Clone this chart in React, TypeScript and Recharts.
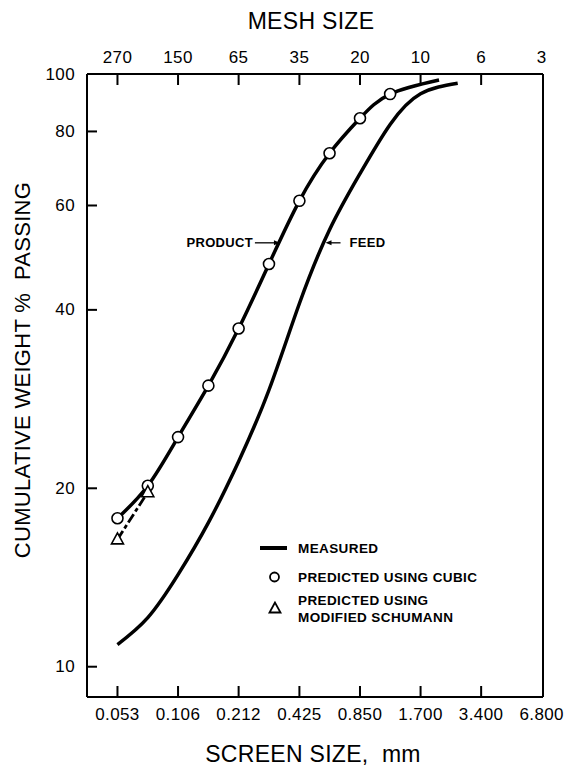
import { ComposedChart, Line, Scatter, XAxis, YAxis, ReferenceDot, Legend } from 'recharts'

// screen size ticks (mm) and matching mesh numbers
const xTicks = [0.053, 0.106, 0.212, 0.425, 0.85, 1.7, 3.4, 6.8]
const xTickLabels = ['0.053', '0.106', '0.212', '0.425', '0.850', '1.700', '3.400', '6.800']
const meshLabels = ['270', '150', '65', '35', '20', '10', '6', '3']
const yTicks = [10, 20, 40, 60, 80, 100]

// measured feed
const feedSize = [0.053, 0.075, 0.106, 0.15, 0.212, 0.3, 0.425, 0.6, 0.85, 1.2, 1.7, 2.6]
const feedPassing = [10.9, 12.1, 14.3, 17.5, 22.2, 29.3, 41.0, 54.6, 67.9, 82.2, 92.6, 96.5]

// measured product
const productSize = [0.053, 0.075, 0.106, 0.15, 0.212, 0.3, 0.425, 0.6, 0.85, 1.2, 2.1]
const productPassing = [17.8, 20.2, 24.4, 29.8, 37.2, 47.8, 61.1, 73.5, 84.2, 92.5, 97.7]

// predicted using cubic
const cubicSize = [0.053, 0.075, 0.106, 0.15, 0.212, 0.3, 0.425, 0.6, 0.85, 1.2]
const cubicPassing = [17.8, 20.2, 24.4, 29.8, 37.2, 47.8, 61.1, 73.5, 84.2, 92.5]

// predicted using modified Schumann
const schumannSize = [0.053, 0.075]
const schumannPassing = [16.4, 19.7]

const xDomain = [0.0374, 6.9]
const yDomain = [8.89, 100]

const FONT = '"Liberation Sans", Arial, sans-serif'
const TICK_LEN = 11

const pts = (xs: number[], ys: number[]) => xs.map((x, i) => ({ x, y: ys[i] }))

const feed = pts(feedSize, feedPassing)
const product = pts(productSize, productPassing)
const cubic = pts(cubicSize, cubicPassing)
const schumann = pts(schumannSize, schumannPassing)

// custom ticks: a short inward mark plus the label outside the frame
const BottomTick = (props: any) => {
  const { x, y, payload } = props
  const i = xTicks.indexOf(payload.value)
  return (
    <g>
      {i < xTicks.length - 1 && <rect x={x - 1} y={y - TICK_LEN} width={2} height={TICK_LEN} fill="#000" />}
      <text x={x} y={y + 17} textAnchor="middle" dominantBaseline="central" fontSize={17} letterSpacing={0.4} fontFamily={FONT} fill="#000">
        {xTickLabels[i]}
      </text>
    </g>
  )
}

const TopTick = (props: any) => {
  const { x, y, payload } = props
  const i = xTicks.indexOf(payload.value)
  return (
    <g>
      {i < xTicks.length - 1 && <rect x={x - 1} y={y} width={2} height={TICK_LEN} fill="#000" />}
      <text x={x} y={y - 17} textAnchor="middle" dominantBaseline="central" fontSize={17} letterSpacing={0.4} fontFamily={FONT} fill="#000">
        {meshLabels[i]}
      </text>
    </g>
  )
}

const LeftTick = (props: any) => {
  const { x, y, payload } = props
  return (
    <g>
      {payload.value !== 100 && <rect x={x} y={y - 1} width={10} height={2} fill="#000" />}
      <text x={x - 12} y={y} textAnchor="end" dominantBaseline="central" fontSize={17} letterSpacing={0.4} fontFamily={FONT} fill="#000">
        {payload.value}
      </text>
    </g>
  )
}

const circleShape = (p: any) => (
  <circle cx={p.cx} cy={p.cy} r={5.5} fill="#fff" stroke="#000" strokeWidth={1.6} />
)

const triangleShape = (p: any) => (
  <polygon
    points={`${p.cx},${p.cy - 6.5} ${p.cx - 6},${p.cy + 4.5} ${p.cx + 6},${p.cy + 4.5}`}
    fill="#fff"
    stroke="#000"
    strokeWidth={1.6}
  />
)

const productArrow = (p: any) => (
  <g>
    <line x1={p.cx - 25} x2={p.cx - 4} y1={p.cy} y2={p.cy} stroke="#000" strokeWidth={1.3} />
    <polygon points={`${p.cx},${p.cy} ${p.cx - 6},${p.cy - 2.5} ${p.cx - 6},${p.cy + 2.5}`} fill="#000" />
    <text x={p.cx - 27} y={p.cy} textAnchor="end" dominantBaseline="central" fontSize={13} letterSpacing={0.3} fontWeight="bold" fontFamily={FONT}>
      PRODUCT
    </text>
  </g>
)

const feedArrow = (p: any) => (
  <g>
    <line x1={p.cx + 4} x2={p.cx + 15} y1={p.cy} y2={p.cy} stroke="#000" strokeWidth={1.3} />
    <polygon points={`${p.cx},${p.cy} ${p.cx + 6},${p.cy - 2.5} ${p.cx + 6},${p.cy + 2.5}`} fill="#000" />
    <text x={p.cx + 24} y={p.cy} textAnchor="start" dominantBaseline="central" fontSize={13} letterSpacing={0.3} fontWeight="bold" fontFamily={FONT}>
      FEED
    </text>
  </g>
)

const legendText = { fontSize: 13.5, fontWeight: 'bold' as const, fontFamily: FONT, letterSpacing: 0.4 }

const legendContent = () => (
  <svg width={240} height={100} style={{ display: 'block' }}>
    <line x1={10} x2={37} y1={13} y2={13} stroke="#000" strokeWidth={4} />
    <text x={48} y={13} dominantBaseline="central" {...legendText}>MEASURED</text>
    <circle cx={24.5} cy={42} r={4.5} fill="#fff" stroke="#000" strokeWidth={1.8} />
    <text x={48} y={42} dominantBaseline="central" {...legendText}>PREDICTED USING CUBIC</text>
    <polygon points="25,67.5 19.5,77.5 30.5,77.5" fill="#fff" stroke="#000" strokeWidth={1.8} />
    <text x={48} y={65} dominantBaseline="central" {...legendText}>PREDICTED USING</text>
    <text x={48} y={82} dominantBaseline="central" {...legendText}>MODIFIED SCHUMANN</text>
  </svg>
)

export default function App() {
  return (
    <div style={{ position: 'absolute', left: 0, top: 0, background: '#fff' }}>
      <ComposedChart width={570} height={766} margin={{ top: 0, right: 0, bottom: 0, left: 0 }}>
        <XAxis
          xAxisId={0}
          dataKey="x"
          type="number"
          scale="log"
          domain={xDomain}
          allowDataOverflow
          ticks={xTicks}
          interval={0}
          height={69}
          tickSize={0}
          tickMargin={0}
          tickLine={false}
          tick={BottomTick}
          axisLine={{ stroke: '#000', strokeWidth: 2 }}
          label={() => (
            <text x={313} y={754} textAnchor="middle" dominantBaseline="central" fontSize={23} letterSpacing={0.3} fontFamily={FONT} style={{ whiteSpace: 'pre' }}>
              {'SCREEN SIZE,  mm'}
            </text>
          )}
        />
        <XAxis
          xAxisId="top"
          orientation="top"
          dataKey="x"
          type="number"
          scale="log"
          domain={xDomain}
          allowDataOverflow
          ticks={xTicks}
          interval={0}
          height={74}
          tickSize={0}
          tickMargin={0}
          tickLine={false}
          tick={TopTick}
          axisLine={{ stroke: '#000', strokeWidth: 2 }}
          label={() => (
            <text x={311} y={21} textAnchor="middle" dominantBaseline="central" fontSize={23} letterSpacing={0.3} fontFamily={FONT}>
              MESH SIZE
            </text>
          )}
        />
        <YAxis
          yAxisId={0}
          type="number"
          scale="log"
          domain={yDomain}
          allowDataOverflow
          ticks={yTicks}
          interval={0}
          width={87}
          tickSize={0}
          tickMargin={0}
          tickLine={false}
          tick={LeftTick}
          axisLine={{ stroke: '#000', strokeWidth: 2 }}
          label={() => (
            <text
              x={22}
              y={370}
              textAnchor="middle"
              dominantBaseline="central"
              fontSize={22}
              letterSpacing={0.3}
              fontFamily={FONT}
              transform="rotate(-90 22 370)"
              style={{ whiteSpace: 'pre' }}
            >
              {'CUMULATIVE WEIGHT %  PASSING'}
            </text>
          )}
        />
        <YAxis
          yAxisId="right"
          orientation="right"
          type="number"
          scale="log"
          domain={yDomain}
          allowDataOverflow
          width={27}
          tick={false}
          tickLine={false}
          axisLine={{ stroke: '#000', strokeWidth: 2 }}
        />
        <Line data={feed} dataKey="y" type="natural" stroke="#000" strokeWidth={3.5} dot={false} isAnimationActive={false} />
        <Line data={product} dataKey="y" type="natural" stroke="#000" strokeWidth={3.5} dot={false} isAnimationActive={false} />
        <Line
          data={schumann}
          dataKey="y"
          type="linear"
          stroke="#000"
          strokeWidth={2.8}
          strokeDasharray="10 3 4 3"
          dot={false}
          isAnimationActive={false}
        />
        <Scatter data={cubic} dataKey="y" shape={circleShape} isAnimationActive={false} />
        <Scatter data={schumann} dataKey="y" shape={triangleShape} isAnimationActive={false} />
        <ReferenceDot x={0.34} y={51.9} r={0} shape={productArrow} />
        <ReferenceDot x={0.573} y={51.9} r={0} shape={feedArrow} />
        <Legend
          layout="horizontal"
          verticalAlign="middle"
          align="center"
          content={legendContent}
          wrapperStyle={{ position: 'absolute', left: 250, top: 535, width: 240, height: 100 }}
        />
      </ComposedChart>
    </div>
  )
}
